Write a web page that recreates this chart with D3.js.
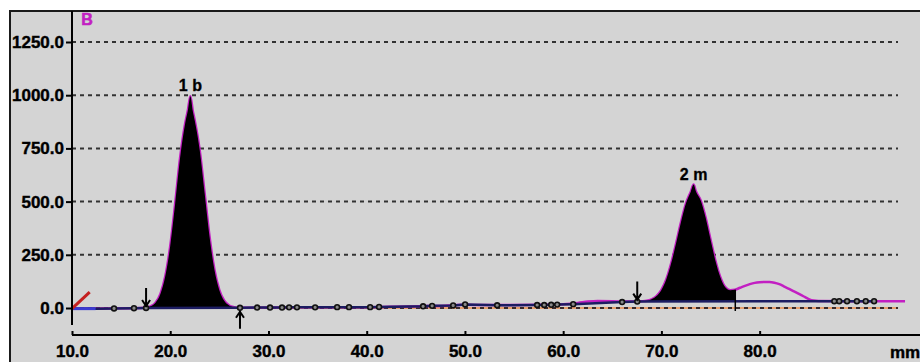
<!DOCTYPE html>
<head>
  <meta charset="utf-8">
  <style>
  body { margin: 0; background: #fff; }
  text { font-family: "Liberation Sans", Arial, sans-serif; font-weight: bold; }
  </style>
</head>
<body>
  <svg width="920" height="362"></svg>
  <script src="https://d3js.org/d3.v7.min.js"></script>
  <script>
  // densitogram trace (mm, signal)
  var traceMm = [10, 12, 14, 16, 17, 17.5, 18, 18.5, 19, 19.5, 20, 20.5, 21, 21.5, 21.8, 22.05, 22.3, 22.5, 23, 23.5, 24, 24.5,
                 25, 25.5, 26, 26.5, 27, 30, 33, 36, 40, 43, 46, 48, 50, 52, 55, 58, 60, 61.5, 62.5, 63.5,
                 65, 66.5, 67.5, 68, 68.5, 69, 69.5, 70, 70.5, 71, 71.5, 72, 72.5, 73, 73.28, 73.5, 74, 74.5, 75, 75.5,
                 76, 76.5, 77, 77.5, 78, 78.5, 79, 79.5, 80, 80.5, 81, 81.5, 82, 82.5, 83, 83.5, 84, 84.5, 85, 85.5,
                 86, 90, 94.8];
  var traceVal = [-3, -3, -2, -1, 0, 2, 8, 25, 66, 150, 292, 490, 705, 862, 930, 995, 925, 880, 742, 540, 336, 180,
                  84, 34, 12, 4, 1, 2, 3, 4, 4, 6, 9, 11, 15, 14, 14, 15, 18, 24, 30, 33,
                  32, 30, 31, 32, 34, 41, 56, 85, 135, 211, 305, 405, 492, 548, 580, 550, 505, 425, 322, 222,
                  145, 98, 84, 86, 95, 104, 112, 118, 121, 122, 122, 119, 112, 101, 90, 78, 66, 54, 42, 35,
                  33, 32, 32];

  // integration baseline knots (the little circles)
  var baseMm = [10, 12.4, 14.28, 16.31, 17.54, 27.1, 28.84, 30.16, 31.38, 32.1, 32.9, 34.75, 36.99, 38.2, 40.35, 41.26,
                45.74, 46.66, 48.8, 50.02, 53.28, 57.35, 58.07, 58.78, 59.39, 61.02, 66.0, 67.54,
                87.6, 88.1, 88.9, 89.9, 90.8, 91.65];
  var baseVal = [-3, -3, -2, -1, 0, 1, 2, 2, 2, 3, 3, 3, 4, 4, 4, 5,
                 8, 10, 12, 17, 13, 14, 14, 15, 16, 18, 28, 30,
                 32, 32, 32, 32, 32, 32];

  var peakLabels = ["1 b", "2 m"];
  var peakStart = [17.54, 67.54];
  var peakEnd = [27.1, 77.52];
  var peakApexMm = [22.05, 73.28];
  var peakApexVal = [995, 580];

  var xTicks = [10, 20, 30, 40, 50, 60, 70, 80];
  var yTicks = [0, 250, 500, 750, 1000, 1250];

  var svg = d3.select("svg"),
      width = +svg.attr("width"),
      height = +svg.attr("height");

  var x = d3.scaleLinear().domain([10, 95]).range([72, 907]);
  var y = d3.scaleLinear().domain([0, 1250]).range([308, 42]);
  var baseAt = d3.scaleLinear().domain(baseMm).range(baseVal);

  var magenta = "#c21fc2", navy = "#1c1c62";

  // frame
  svg.append("rect")
      .attr("x", 10).attr("y", 11)
      .attr("width", 930).attr("height", 400)
      .attr("fill", "#d4d4d4")
      .attr("stroke", "#1a1a1a")
      .attr("stroke-width", 2);

  // zero line (orange under dark dashes)
  svg.append("line")
      .attr("x1", x(10)).attr("x2", 898)
      .attr("y1", y(0)).attr("y2", y(0))
      .attr("stroke", "#e8a070").attr("stroke-width", 2);
  svg.append("line")
      .attr("x1", x(10)).attr("x2", 898)
      .attr("y1", y(0)).attr("y2", y(0))
      .attr("stroke", "#3a2a2a").attr("stroke-width", 2)
      .attr("stroke-dasharray", "4,4");

  // grid
  svg.append("g")
    .selectAll("line")
    .data(yTicks.slice(1))
    .enter().append("line")
      .attr("x1", x(10)).attr("x2", 898)
      .attr("y1", function(d) { return y(d); })
      .attr("y2", function(d) { return y(d); })
      .attr("stroke", "#333")
      .attr("stroke-width", 2)
      .attr("stroke-dasharray", "4,4");

  var pts = traceMm.map(function(m, i) { return [m, traceVal[i]]; });

  var line = d3.line()
      .x(function(d) { return x(d[0]); })
      .y(function(d) { return y(d[1]); })
      .curve(d3.curveMonotoneX);

  // trace
  svg.append("path")
      .datum(pts)
      .attr("d", line)
      .attr("fill", "none")
      .attr("stroke", magenta)
      .attr("stroke-width", 2.5);

  // filled peaks
  var area = d3.area()
      .x(function(d) { return x(d[0]); })
      .y0(function(d) { return y(baseAt(d[0])); })
      .y1(function(d) { return y(d[1]); })
      .curve(d3.curveMonotoneX);

  var defs = svg.append("defs");
  peakStart.forEach(function(s, i) {
    defs.append("clipPath").attr("id", "clip" + i)
      .append("rect")
        .attr("x", x(s)).attr("width", x(peakEnd[i]) - x(s))
        .attr("y", 0).attr("height", height);
    svg.append("path")
        .datum(pts)
        .attr("d", area)
        .attr("clip-path", "url(#clip" + i + ")")
        .attr("fill", "#000");
  });

  // baseline
  var basePts = baseMm.map(function(m, i) { return [m, baseVal[i]]; });
  svg.append("path")
      .datum(basePts)
      .attr("d", d3.line()
        .x(function(d) { return x(d[0]); })
        .y(function(d) { return y(d[1]); }))
      .attr("fill", "none")
      .attr("stroke", navy)
      .attr("stroke-width", 2.5);

  svg.append("line")
      .attr("x1", x(10)).attr("x2", x(12.4))
      .attr("y1", y(-3)).attr("y2", y(-3))
      .attr("stroke", "#3a3ad0").attr("stroke-width", 3);

  svg.append("g")
    .selectAll("circle")
    .data(basePts.slice(2))
    .enter().append("circle")
      .attr("cx", function(d) { return x(d[0]); })
      .attr("cy", function(d) { return y(d[1]); })
      .attr("r", 2.4)
      .attr("fill", "#8a8a8a")
      .attr("stroke", "#111")
      .attr("stroke-width", 1.6);

  // peak boundary markers
  peakStart.forEach(function(s) {
    var px = x(s), py = y(baseAt(s));
    svg.append("path")
        .attr("d", "M" + px + "," + (py - 20) + "V" + (py - 1) +
                   "M" + (px - 4) + "," + (py - 8) + "L" + px + "," + (py - 2) + "L" + (px + 4) + "," + (py - 8))
        .attr("fill", "none").attr("stroke", "#000").attr("stroke-width", 2);
  });
  (function() {
    var px = x(peakEnd[0]), py = y(baseAt(peakEnd[0]));
    svg.append("path")
        .attr("d", "M" + px + "," + (py + 21) + "V" + (py + 3) +
                   "M" + (px - 4) + "," + (py + 10) + "L" + px + "," + (py + 4) + "L" + (px + 4) + "," + (py + 10))
        .attr("fill", "none").attr("stroke", "#000").attr("stroke-width", 2);
    var ex = x(peakEnd[1]);
    svg.append("line")
        .attr("x1", ex).attr("x2", ex)
        .attr("y1", y(86)).attr("y2", y(0) + 3)
        .attr("stroke", "#000").attr("stroke-width", 1.5);
  })();

  // red start mark
  svg.append("line")
      .attr("x1", x(10)).attr("y1", y(-3))
      .attr("x2", x(11.8)).attr("y2", y(75))
      .attr("stroke", "#c42020").attr("stroke-width", 3);

  // peak labels
  svg.append("g")
    .selectAll("text")
    .data(peakLabels)
    .enter().append("text")
      .attr("x", function(d, i) { return x(peakApexMm[i]); })
      .attr("y", function(d, i) { return y(peakApexVal[i]) - 5; })
      .attr("text-anchor", "middle")
      .attr("font-size", 16)
      .attr("fill", "#000")
      .attr("stroke", "#000")
      .attr("stroke-width", 0.3)
      .text(function(d) { return d; });

  // axes
  svg.append("line")
      .attr("x1", x(10)).attr("x2", x(10))
      .attr("y1", 11).attr("y2", 325)
      .attr("stroke", "#000").attr("stroke-width", 2);
  svg.append("line")
      .attr("x1", x(10)).attr("x2", 920)
      .attr("y1", 335).attr("y2", 335)
      .attr("stroke", "#000").attr("stroke-width", 2);

  var yAxis = svg.append("g")
      .attr("transform", "translate(" + x(10) + ",0)")
      .call(d3.axisLeft(y).tickValues(yTicks).tickFormat(d3.format(".1f")).tickSize(6).tickPadding(2));
  var xAxis = svg.append("g")
      .attr("transform", "translate(0,335)")
      .call(d3.axisBottom(x).tickValues(xTicks).tickFormat(d3.format(".1f")).tickSize(-4).tickPadding(10));

  [yAxis, xAxis].forEach(function(g) {
    g.select(".domain").remove();
    g.selectAll("line").attr("stroke", "#000").attr("stroke-width", 2);
    g.selectAll("text")
        .attr("fill", "#000")
        .attr("stroke", "#000")
        .attr("stroke-width", 0.4)
        .style("font-family", '"Liberation Sans", Arial, sans-serif')
        .style("font-weight", "bold")
        .style("font-size", "17px");
  });

  svg.append("text")
      .attr("x", 890).attr("y", 358)
      .attr("font-size", 17)
      .attr("fill", "#000")
      .attr("stroke", "#000")
      .attr("stroke-width", 0.4)
      .text("mm");

  svg.append("text")
      .attr("x", 87).attr("y", 25)
      .attr("text-anchor", "middle")
      .attr("font-size", 16)
      .attr("fill", magenta)
      .attr("stroke", magenta)
      .attr("stroke-width", 0.6)
      .text("B");
  </script>
</body>
